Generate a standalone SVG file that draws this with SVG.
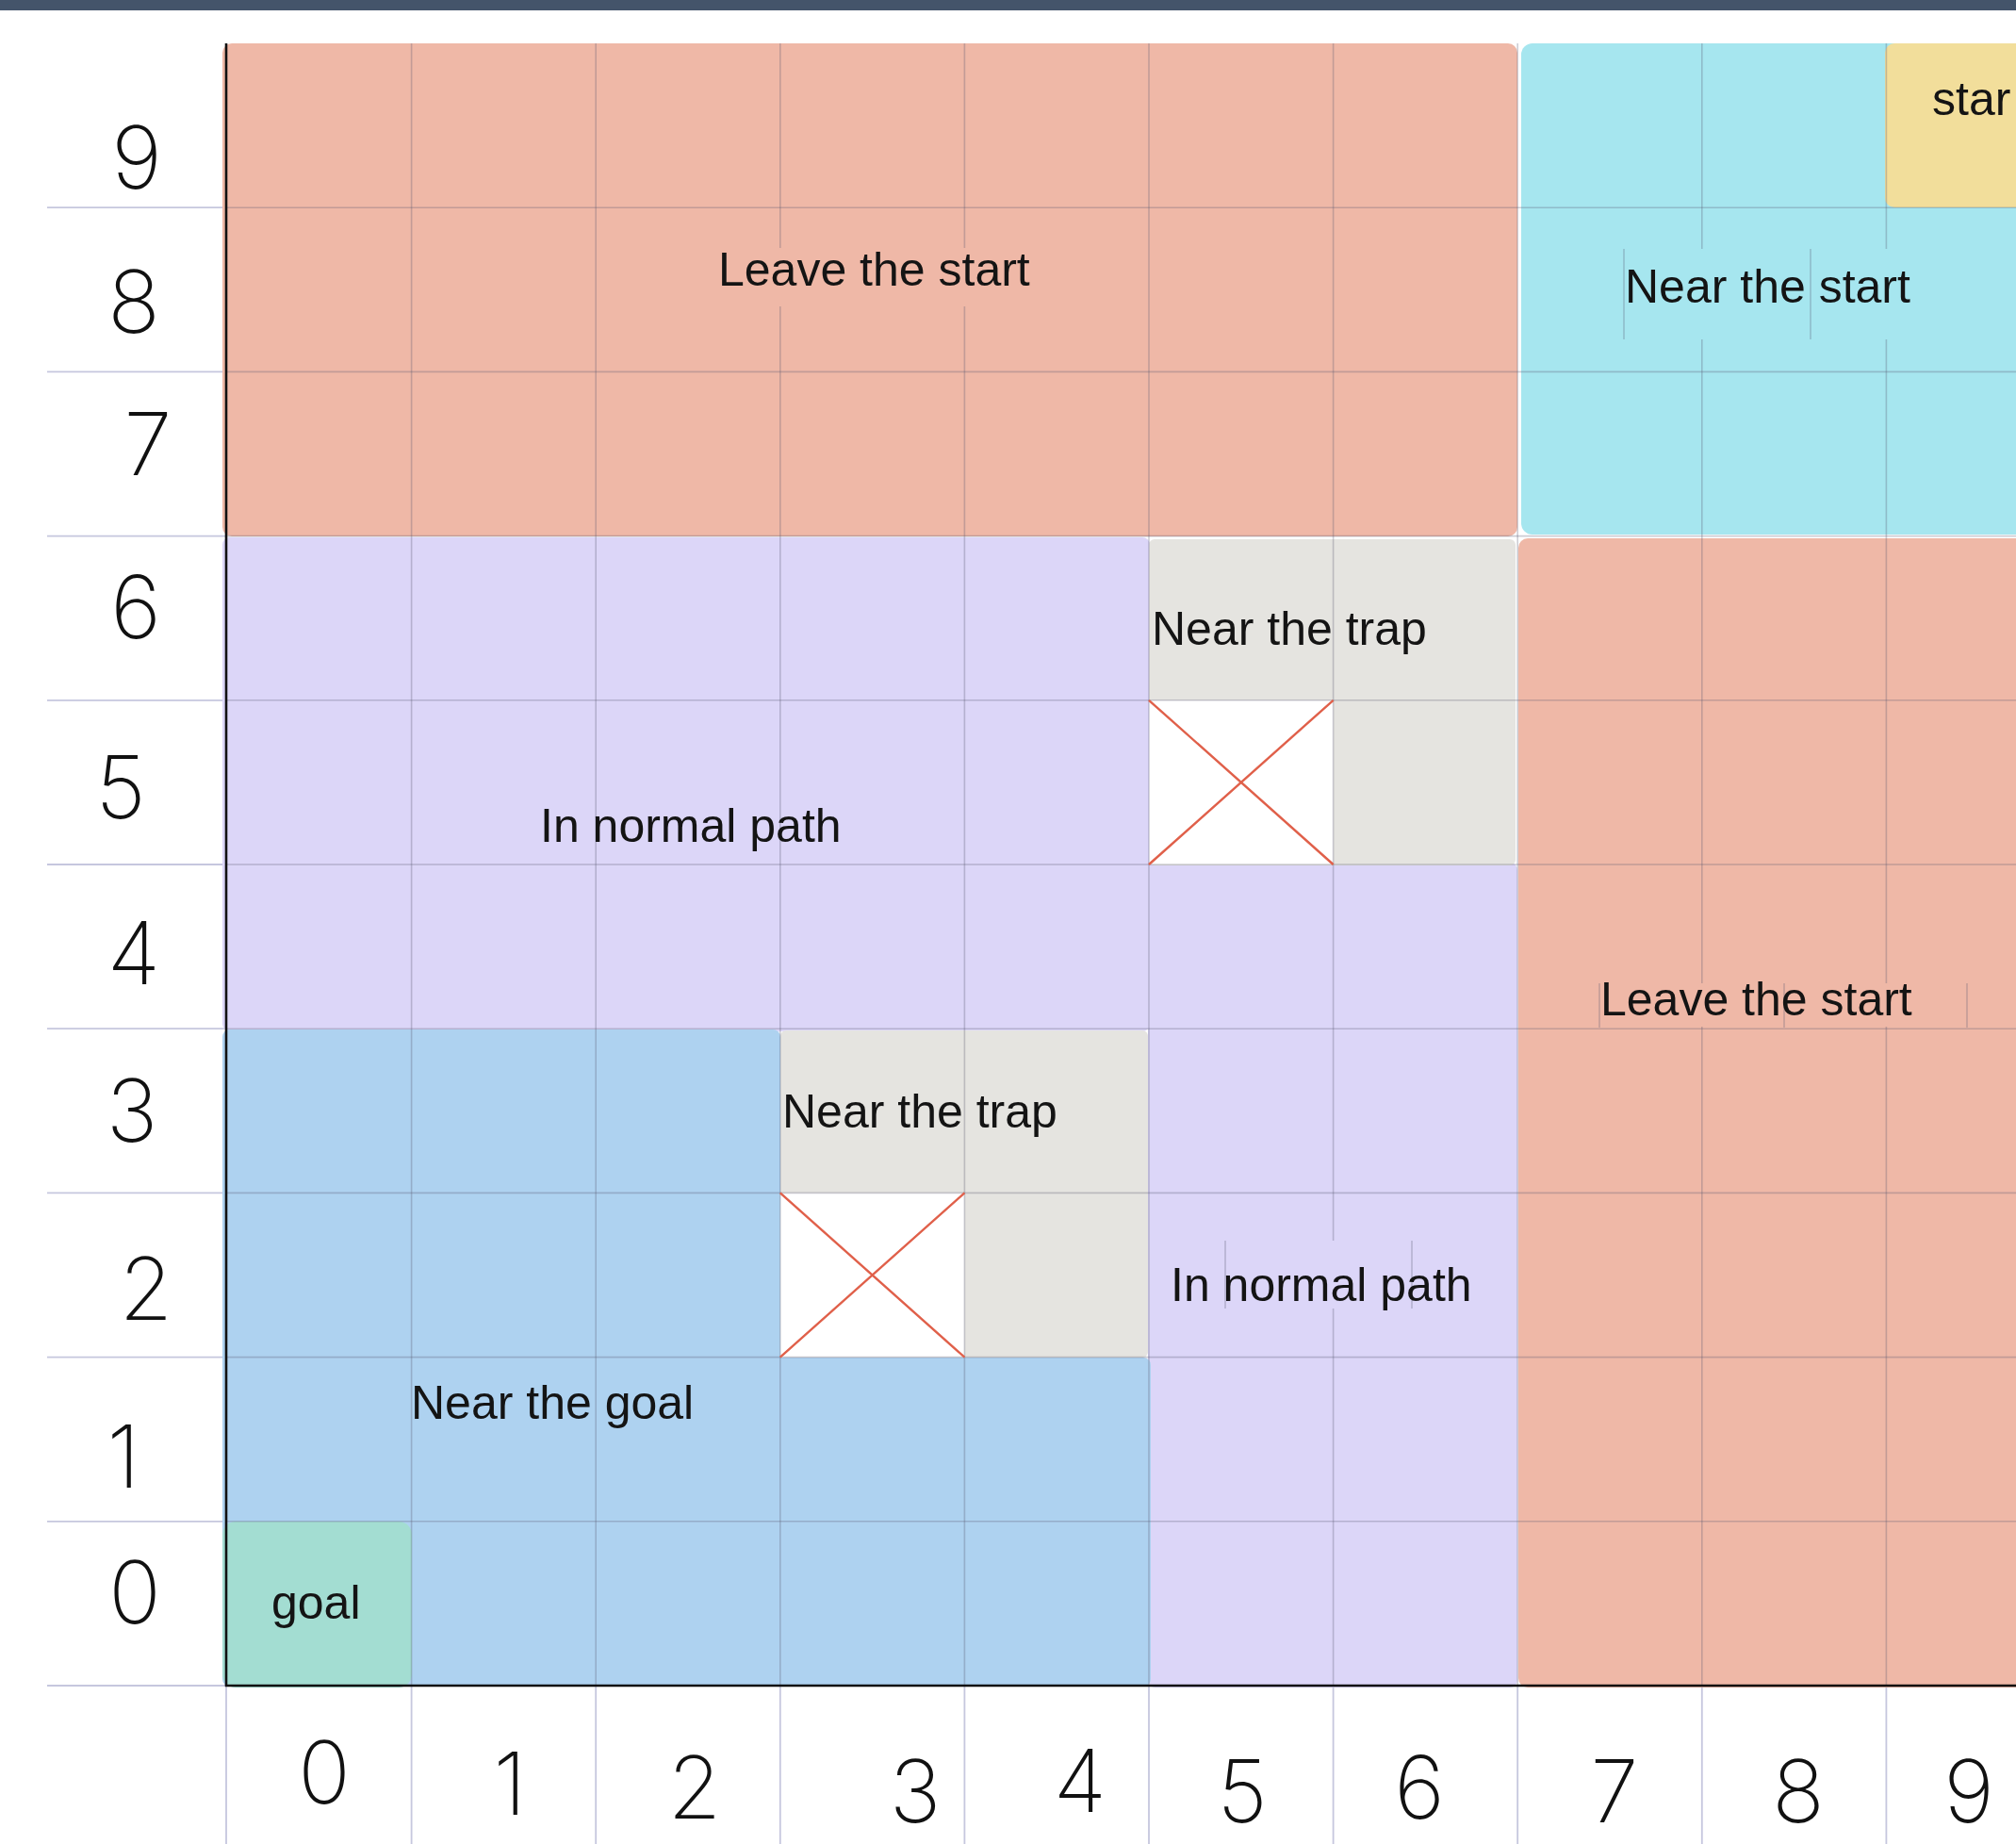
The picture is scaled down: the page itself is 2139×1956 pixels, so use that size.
<svg xmlns="http://www.w3.org/2000/svg" width="2139" height="1956" viewBox="0 0 2139 1956">
<style>
.lbl{font-family:"Liberation Sans",Arial,sans-serif;font-size:50px;fill:#141414}
.dig{font-family:Inter,"Open Sans",Lato,sans-serif;font-weight:200;font-size:92px;fill:#111;text-anchor:middle}
.grid{stroke:#5a5a70;stroke-opacity:0.3;stroke-width:1.6;fill:none}
.mgrid{stroke:#c6c7de;stroke-width:1.8;fill:none}
.axis{stroke:#111;stroke-width:2.6;fill:none}
.trapx{stroke:#e0604a;stroke-width:2.4;fill:none}
.salmon{fill:#efb8a7}
.cyan{fill:#a6e6ef}
.yellow{fill:#f2de9b}
.lav{fill:#dcd6f8}
.blue{fill:#aed2f0}
.green{fill:#a3ddd2}
.gray{fill:#e5e4e0}
</style>
<rect x="0" y="0" width="2139" height="1956" fill="#ffffff"/>
<rect x="0" y="0" width="2139" height="11" fill="#44546a"/>

<g id="margin-lines">
  <path class="mgrid" d="M50 220.2H240M50 394.4H240M50 568.6H240M50 742.8H240M50 917H240M50 1091.2H240M50 1265.4H240M50 1439.6H240M50 1613.8H240M50 1788H240"/>
  <path class="mgrid" d="M240 1788V1956M436.6 1788V1956M632.2 1788V1956M827.8 1788V1956M1023.4 1788V1956M1219 1788V1956M1414.6 1788V1956M1610.2 1788V1956M1805.8 1788V1956M2001.4 1788V1956"/>
</g>

<g id="region-leave-start-top"><rect class="salmon" x="236" y="46" width="1374" height="523" rx="10"/></g>
<g id="region-near-start"><rect class="cyan" x="1614" y="46" width="540" height="521" rx="12"/></g>
<g id="region-start"><rect class="yellow" x="2000" y="46" width="150" height="174" rx="10"/></g>
<g id="region-leave-start-right"><rect class="salmon" x="1611" y="571" width="540" height="1219" rx="10"/></g>
<g id="region-normal-upper"><rect class="lav" x="236" y="570" width="984" height="524" rx="8"/></g>
<g id="region-normal-lower"><rect class="lav" x="1218" y="915" width="392" height="875" rx="8"/></g>
<g id="region-trap-upper">
  <rect class="gray" x="1219" y="572" width="389" height="346" rx="6"/>
  <rect fill="#ffffff" x="1219" y="742.8" width="195.6" height="174.2"/>
</g>
<g id="region-near-goal">
  <rect class="blue" x="236" y="1092" width="592" height="524" rx="8"/>
  <rect class="blue" x="236" y="1440" width="985" height="349" rx="8"/>
</g>
<g id="region-trap-lower">
  <rect class="gray" x="828" y="1093" width="390" height="347" rx="6"/>
  <rect fill="#ffffff" x="827.8" y="1265.4" width="195.6" height="174.2"/>
</g>
<g id="region-goal"><rect class="green" x="236" y="1614" width="201" height="176" rx="14"/></g>

<g id="grid-lines">
  <path class="grid" d="M436.6 46V1788M632.2 46V1788M827.8 46V1788M1023.4 46V1788M1219 46V1788M1414.6 46V1788M1610.2 46V1788M1805.8 46V1788M2001.4 46V1788"/>
  <path class="grid" d="M240 220.2H2139M240 394.4H2139M240 568.6H2139M240 742.8H2139M240 917H2139M240 1091.2H2139M240 1265.4H2139M240 1439.6H2139M240 1613.8H2139"/>
</g>

<g id="text-patches">
  <rect class="salmon" x="780" y="263" width="300" height="62"/>
  <rect class="cyan" x="1700" y="264" width="439" height="96"/>
  <path class="grid" d="M1723 264V360M1921 264V360"/>
  <rect class="salmon" x="1680" y="1043" width="459" height="46"/>
  <path class="grid" d="M1697 1043V1090M1893 1043V1090M2087 1043V1090"/>
  <rect class="lav" x="1260" y="1316" width="300" height="72"/>
  <path class="grid" d="M1300 1316V1388M1498 1316V1388"/>
</g>

<g id="traps">
  <path class="trapx" d="M1219 742.8L1414.6 917M1414.6 742.8L1219 917"/>
  <path class="trapx" d="M827.8 1265.4L1023.4 1439.6M1023.4 1265.4L827.8 1439.6"/>
</g>

<g id="axes">
  <path class="axis" d="M240 46V1789M239 1788H2139"/>
</g>

<g id="labels">
  <text class="lbl" x="762" y="303">Leave the start</text>
  <text class="lbl" x="1724" y="321">Near the start</text>
  <text class="lbl" x="2050" y="122">star</text>
  <text class="lbl" x="1222" y="684">Near the trap</text>
  <text class="lbl" x="573" y="893">In normal path</text>
  <text class="lbl" x="1698" y="1077">Leave the start</text>
  <text class="lbl" x="830" y="1196">Near the trap</text>
  <text class="lbl" x="1242" y="1380">In normal path</text>
  <text class="lbl" x="436" y="1505">Near the goal</text>
  <text class="lbl" x="288" y="1717">goal</text>
</g>

<g id="row-axis-labels">
  <text class="dig" x="145" y="200" font-size="110">9</text>
  <text class="dig" x="142" y="353">8</text>
  <text class="dig" x="157" y="504">7</text>
  <text class="dig" x="144" y="677">6</text>
  <text class="dig" x="128" y="868">5</text>
  <text class="dig" x="142" y="1044">4</text>
  <text class="dig" x="140" y="1211">3</text>
  <text class="dig" x="155" y="1400">2</text>
  <text class="dig" x="131" y="1578">1</text>
  <text class="dig" x="143" y="1722" font-size="80">0</text>
</g>

<g id="col-axis-labels">
  <text class="dig" x="344" y="1913" font-size="84">0</text>
  <text class="dig" x="541" y="1925">1</text>
  <text class="dig" x="737" y="1929">2</text>
  <text class="dig" x="971" y="1933">3</text>
  <text class="dig" x="1146" y="1922">4</text>
  <text class="dig" x="1318" y="1933">5</text>
  <text class="dig" x="1506" y="1929">6</text>
  <text class="dig" x="1713" y="1933">7</text>
  <text class="dig" x="1908" y="1933">8</text>
  <text class="dig" x="2089" y="1933" font-size="100">9</text>
</g>
</svg>
